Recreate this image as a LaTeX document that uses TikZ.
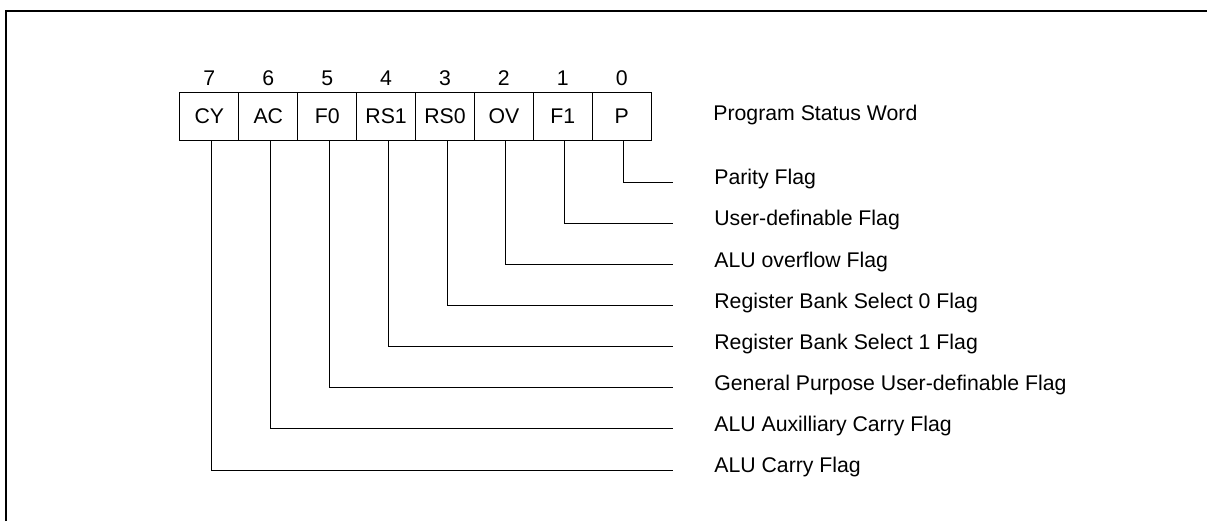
\documentclass[tikz,border=0pt]{standalone}
\usepackage{fontspec}
\setmainfont{Liberation Sans}
\usetikzlibrary{positioning}

\begin{document}
\begin{tikzpicture}[x=0.02cm, y=-0.02cm,
    every node/.style={font=\fontsize{12.1}{14}\selectfont},
    bitcell/.style={draw, line width=0.6pt, minimum width=1.178cm, minimum height=0.946cm, inner sep=0pt},
    flagtext/.style={anchor=west, inner sep=0pt},
    lead/.style={line width=0.55pt}]
    \useasboundingbox (0,0) rectangle (1207,521);

    % Frame
    \draw[line width=1.2pt] (6,521) -- (6,11) -- (1207,11);

    % Register cells, bit numbers, leads and flag names
    \foreach \name/\bit/\desc [count=\i from 0] in {
        CY/7/ALU Carry Flag,
        AC/6/ALU Auxilliary Carry Flag,
        F0/5/General Purpose User-definable Flag,
        RS1/4/Register Bank Select 1 Flag,
        RS0/3/Register Bank Select 0 Flag,
        OV/2/ALU overflow Flag,
        F1/1/User-definable Flag,
        P/0/Parity Flag}
    {
        \node[bitcell] (\name) at ({209.4+58.9*\i},116.4) {\name};
        \node (b\bit) at ({209.4+58.9*\i},78) {\bit};
        \coordinate (e\name) at (673,{182.3+41.1*\bit});
        \node[flagtext] (l\name) at (714,{179.3+41.1*\bit}) {\desc};
        \draw[lead] ([xshift=0.04cm]\name.south) |- (e\name);
    }

    % Register title
    \node[flagtext] (psw) at (713,115) {Program Status Word};
\end{tikzpicture}
\end{document}
